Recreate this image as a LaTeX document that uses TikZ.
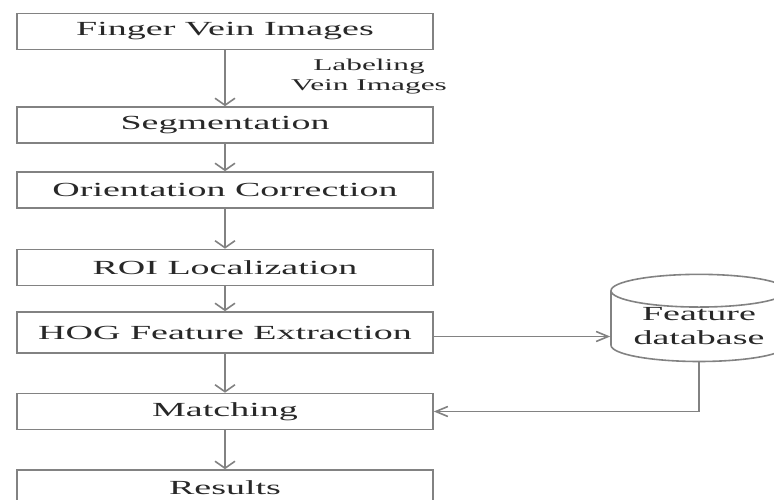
\documentclass[tikz,border=0pt]{standalone}
\usepackage{fontspec}
\setmainfont{Liberation Serif}
\newfontfamily\widefont[FakeStretch=1.9]{Liberation Serif}
\usetikzlibrary{arrows.meta}
\usetikzlibrary{shapes.geometric}
\definecolor{linegray}{RGB}{130,130,130}
\definecolor{textgray}{RGB}{40,40,40}

\begin{document}
\begin{tikzpicture}[x=1pt, y=-1pt,
    stage/.style={draw=linegray, line width=1.6pt, minimum width=416pt, minimum height=36pt, inner sep=0pt, font=\widefont\fontsize{20}{24}\selectfont, text=textgray},
    database/.style={cylinder, shape border rotate=90, aspect=0.25, draw=linegray, line width=1.6pt, minimum width=176pt, minimum height=86pt, inner sep=0pt, align=center, font=\widefont\fontsize{20}{24}\selectfont, text=textgray},
    flowdown/.style={draw=linegray, line width=1.6pt, -{Straight Barb[length=7pt,width=20pt]}},
    flowside/.style={draw=linegray, line width=1.6pt, -{Straight Barb[length=12pt,width=10pt]}}]
        \useasboundingbox (0,0) rectangle (774,500);
        % stages
        \node[stage] (finger) at (225,31.5) {Finger Vein Images};
        \node[stage] (segment) at (225,125) {Segmentation};
        \node[stage] (orient) at (225,190) {Orientation Correction};
        \node[stage] (roi) at (225,267.5) {ROI Localization};
        \node[stage, minimum height=41pt] (hog) at (225,332.5) {HOG Feature Extraction};
        \node[stage] (match) at (225,411.5) {Matching};
        \node[stage] (result) at (225,488) {Results};
        \node[database] (db) at (699,326.5) {Feature\\database};
        \node[align=center, font=\widefont\fontsize{16.5}{20}\selectfont, text=textgray] (label) at (369,77) {Labeling\\Vein Images};
        % arrows
        \draw[flowdown] (finger) -- (segment);
        \draw[flowdown] (segment) -- (orient);
        \draw[flowdown] (orient) -- (roi);
        \draw[flowdown] (roi) -- (hog);
        \draw[flowdown] (hog) -- (match);
        \draw[flowdown] (match) -- (result);
        \coordinate (hogout) at ([yshift=-4pt]hog.east);
        \draw[flowside] (hogout) -- (hogout -| db.west);
        \draw[flowside] (db.south) |- (match.east);
    \end{tikzpicture}
\end{document}
